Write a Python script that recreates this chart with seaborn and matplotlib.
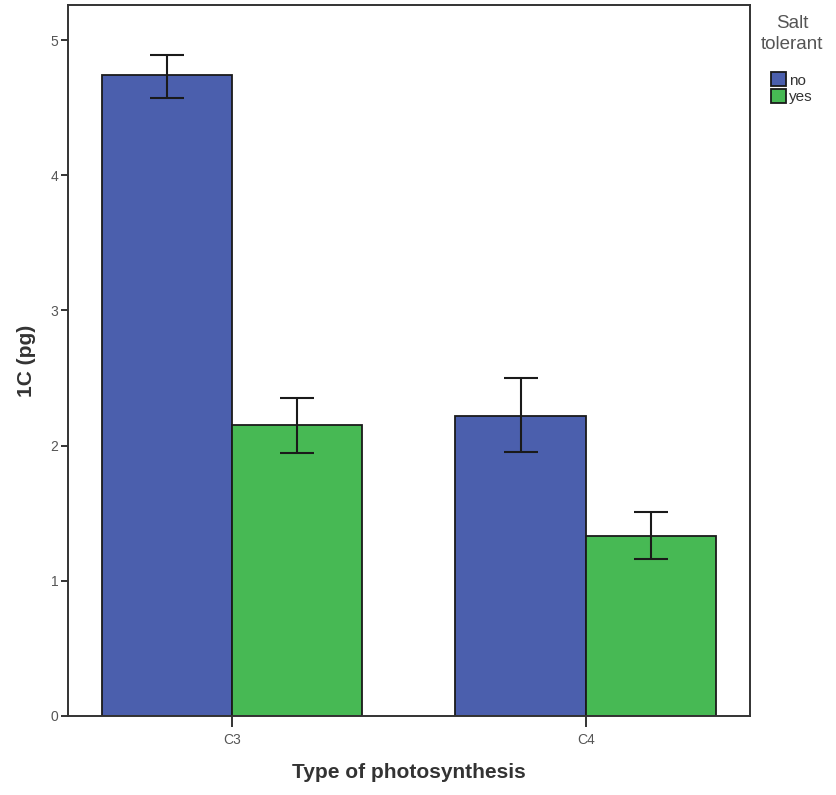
import numpy as np
import pandas as pd
import matplotlib
matplotlib.use("Agg")
import matplotlib.pyplot as plt
import seaborn as sns

photosynthesis = ["C3", "C3", "C4", "C4"]
salt_tolerant = ["no", "yes", "no", "yes"]
mean_1c = [4.74, 2.15, 2.22, 1.33]
err_low = [4.57, 1.945, 1.95, 1.16]
err_high = [4.89, 2.35, 2.50, 1.51]

df = pd.DataFrame({"Type of photosynthesis": photosynthesis,
                   "Salt tolerant": salt_tolerant,
                   "1C (pg)": mean_1c})

sns.set_style("ticks")
plt.rcParams["font.family"] = ["Liberation Sans", "DejaVu Sans"]

fig = plt.figure(figsize=(8.37, 7.95), dpi=100)
ax = fig.add_axes([0.0812, 0.0994, 0.8148, 0.8943])

palette = {"no": "#4b5fad", "yes": "#47b954"}
sns.barplot(data=df, x="Type of photosynthesis", y="1C (pg)", hue="Salt tolerant",
            palette=palette, errorbar=None, width=0.737, saturation=1,
            edgecolor="#1a1a1a", linewidth=1.3, ax=ax)

# error bars on each bar, sorted left to right
bars = [p for p in ax.patches if p.get_height() > 0]
bars = sorted(bars, key=lambda p: p.get_x())
for p, lo, hi, m in zip(bars, err_low, err_high, mean_1c):
    xc = p.get_x() + p.get_width() / 2
    ax.errorbar(xc, m, yerr=[[m - lo], [hi - m]], fmt="none", ecolor="#1a1a1a",
                elinewidth=1.5, capsize=12, capthick=1.5)

ax.set_xlim(-0.465, 1.465)
ax.set_ylim(0, 5.26)
ax.set_yticks([0, 1, 2, 3, 4, 5])
for s in ax.spines.values():
    s.set_color("#333333")
    s.set_linewidth(1.4)
ax.tick_params(axis="both", colors="#333333", labelcolor="#555555", labelsize=10,
               width=1.4, direction="out")
ax.tick_params(axis="y", length=5, pad=2)
ax.tick_params(axis="x", length=8, pad=4)
ax.set_xlabel("Type of photosynthesis", fontsize=15, fontweight="bold",
              color="#333333", labelpad=12)
ax.set_ylabel("1C (pg)", fontsize=15, fontweight="bold", color="#333333", labelpad=10)

leg = ax.legend(title="Salt\ntolerant", loc="upper left", bbox_to_anchor=(0.998, 1.003),
                frameon=False, fontsize=11, title_fontsize=13.5, handlelength=0.95,
                handleheight=1.0, handletextpad=0.25, borderaxespad=0.4,
                labelspacing=0.12)
leg.get_title().set_color("#555555")
leg.get_title().set_ha("center")
leg.get_title().set_linespacing(1.3)
leg._legend_box.sep = 14
for t in leg.get_texts():
    t.set_color("#333333")

fig.savefig("out.png", dpi=100)
